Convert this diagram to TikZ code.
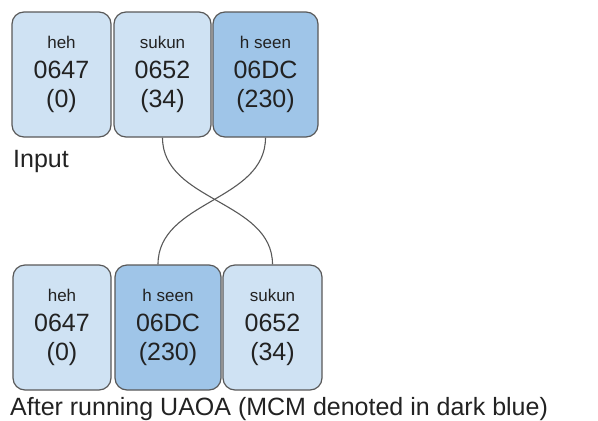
\documentclass[tikz,border=0pt]{standalone}
\usepackage{fontspec}
\setmainfont{Liberation Sans}
\usepackage{tikz}

\definecolor{lightblue}{HTML}{CFE2F3}
\definecolor{darkblue}{HTML}{9FC5E8}
\definecolor{boxline}{HTML}{595959}
\definecolor{ink}{HTML}{222222}

\newcommand{\glyphinfo}[3]{{\fontsize{17}{30}\selectfont #1}\\#2\\(#3)}

\begin{document}
\begin{tikzpicture}[x=1pt,y=-1pt]

        \useasboundingbox (0,0) rectangle (598,421);

        \begin{scope}[every node/.style={draw=boxline, line width=1.2pt, rounded corners=12pt,
            minimum height=125pt, inner sep=0pt, align=center, text=ink,
            font=\fontsize{25}{29.5}\selectfont}]
          % input order
          \node[fill=lightblue, minimum width=99pt]  (1) at (61.5,74.5)  {\glyphinfo{heh}{0647}{0}};
          \node[fill=lightblue, minimum width=97pt]  (2) at (162.5,74.5) {\glyphinfo{sukun}{0652}{34}};
          \node[fill=darkblue,  minimum width=105pt] (3) at (265.5,74.5) {\glyphinfo{h seen}{06DC}{230}};
          % after reordering
          \node[fill=lightblue, minimum width=98pt]  (4) at (62,327.5)   {\glyphinfo{heh}{0647}{0}};
          \node[fill=darkblue,  minimum width=106pt] (5) at (168,327.5)  {\glyphinfo{h seen}{06DC}{230}};
          \node[fill=lightblue, minimum width=99pt]  (6) at (272.5,327.5) {\glyphinfo{sukun}{0652}{34}};
        \end{scope}

        \begin{scope}[every node/.style={anchor=base west, inner sep=0pt, text=ink,
            font=\fontsize{25}{29}\selectfont}]
          \node (input)  at (13,167) {Input};
          \node (output) at (10,415) {After running UAOA (MCM denoted in dark blue)};
        \end{scope}

        \begin{scope}[line width=1.1pt, draw=boxline]
          \draw (2.south) .. controls +(0,64) and +(0,-64) .. (6.north);
          \draw (3.south) .. controls +(0,64) and +(0,-64) .. ([xshift=-10pt]5.north);
        \end{scope}

      \end{tikzpicture}
\end{document}
